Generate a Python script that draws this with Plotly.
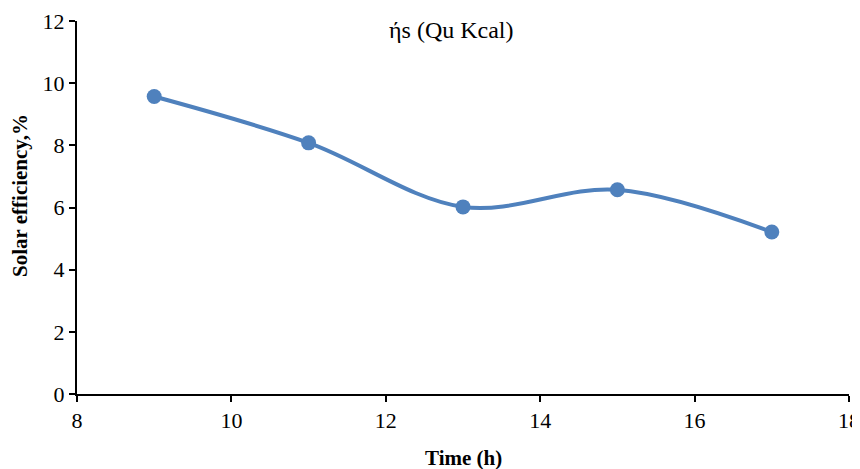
import plotly.graph_objects as go

time_h = [9, 11, 13, 15, 17]
efficiency = [9.57, 8.08, 6.02, 6.57, 5.21]
x_ticks = [8, 10, 12, 14, 16, 18]
y_ticks = [0, 2, 4, 6, 8, 10, 12]

color = "#4F81BD"
font = "Liberation Serif"

fig = go.Figure()
fig.add_trace(go.Scatter(
    x=time_h, y=efficiency, mode="lines+markers",
    line=dict(color=color, width=4, shape="spline", smoothing=1.0),
    marker=dict(color=color, size=15),
    showlegend=False, cliponaxis=False,
))

fig.update_layout(
    width=852, height=461,
    margin=dict(l=69, r=11, t=13, b=75, autoexpand=False),
    paper_bgcolor="white", plot_bgcolor="white",
    font=dict(family=font, color="black", size=22),
    annotations=[
        dict(text="ήs (Qu Kcal)", x=0.4845, y=0.976, xref="paper", yref="paper",
             xanchor="center", yanchor="middle", showarrow=False,
             font=dict(family=font, size=24, color="black")),
        dict(text="<b>Time (h)</b>", x=0.5, y=-0.1716, xref="paper", yref="paper",
             xanchor="center", yanchor="middle", showarrow=False,
             font=dict(family=font, size=21, color="black")),
        dict(text="<b>Solar efficiency,%</b>", x=-0.0738, y=0.531, xref="paper", yref="paper",
             xanchor="center", yanchor="middle", showarrow=False, textangle=-90,
             font=dict(family=font, size=21, color="black")),
    ],
)

fig.update_xaxes(
    range=[8, 18], tickvals=x_ticks, showgrid=False, zeroline=False,
    showline=True, linecolor="black", linewidth=2,
    ticks="outside", ticklen=6, tickwidth=2, tickcolor="black",
    tickfont=dict(family=font, size=22, color="black"),
    automargin=False,
)
fig.update_yaxes(
    range=[0, 12], tickvals=y_ticks, showgrid=False, zeroline=False,
    showline=True, linecolor="black", linewidth=2,
    ticks="outside", ticklen=6, tickwidth=2, tickcolor="black",
    tickfont=dict(family=font, size=22, color="black"),
    automargin=False,
)

fig.write_html("out.html")
